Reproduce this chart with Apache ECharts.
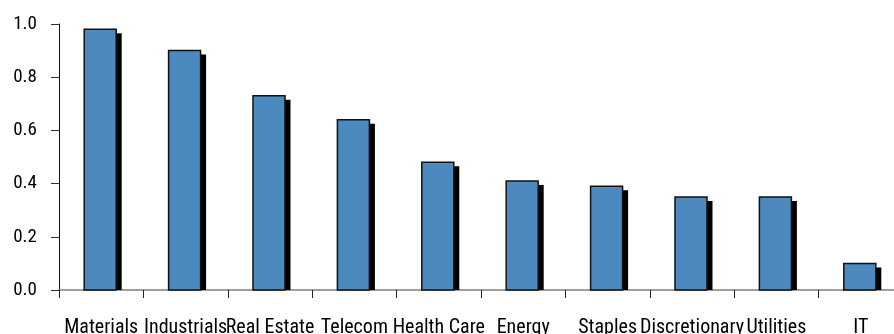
<!DOCTYPE html>
<html>
<head>
<meta charset="utf-8">
<script src="https://cdn.jsdelivr.net/npm/echarts@6/dist/echarts.min.js"></script>
<style>
html,body{margin:0;padding:0;background:#fff;}
#chart{width:894px;height:334px;}
</style>
</head>
<body>
<div id="chart"></div>
<script>
var categories = ['Materials', 'Industrials', 'Real Estate', 'Telecom', 'Health Care', 'Energy', 'Staples', 'Discretionary', 'Utilities', 'IT'];
var values = [0.98, 0.90, 0.73, 0.64, 0.48, 0.41, 0.39, 0.35, 0.35, 0.10];
var yTicks = [0.0, 0.2, 0.4, 0.6, 0.8, 1.0];

// pick a narrow font if one is installed
function hasFont(name) {
  var c = document.createElement('canvas').getContext('2d');
  var s = 'Materials IndustrialsWWmmii';
  c.font = '20px monospace';
  var a = c.measureText(s).width;
  c.font = '20px "' + name + '", monospace';
  var b = c.measureText(s).width;
  c.font = '20px serif';
  var a2 = c.measureText(s).width;
  c.font = '20px "' + name + '", serif';
  var b2 = c.measureText(s).width;
  return a !== b || a2 !== b2;
}
var FONT, XSIZE, YSIZE;
if (hasFont('Liberation Sans Narrow')) {
  FONT = '"Liberation Sans Narrow", sans-serif'; XSIZE = 21; YSIZE = 20;
} else if (hasFont('Arial Narrow')) {
  FONT = '"Arial Narrow", sans-serif'; XSIZE = 21; YSIZE = 20;
} else if (hasFont('Roboto Condensed')) {
  FONT = '"Roboto Condensed", sans-serif'; XSIZE = 20; YSIZE = 19;
} else {
  FONT = '"Liberation Sans", Arial, sans-serif'; XSIZE = 18; YSIZE = 18;
}

var chart = echarts.init(document.getElementById('chart'), null, {renderer: 'canvas'});
chart.setOption({
  animation: false,
  backgroundColor: '#ffffff',
  grid: {left: 59, right: -9, top: 24, bottom: 44, containLabel: false, outerBoundsMode: 'none'},
  xAxis: {
    type: 'category',
    data: categories,
    boundaryGap: true,
    axisLine: {show: true, lineStyle: {color: '#808080', width: 1.5}},
    axisTick: {show: true, length: 8, lineStyle: {color: '#222'}},
    axisLabel: {interval: 0, margin: 28, color: '#000', fontSize: XSIZE, fontFamily: FONT, hideOverlap: false}
  },
  yAxis: {
    type: 'value',
    min: yTicks[0],
    max: yTicks[yTicks.length - 1],
    interval: 0.2,
    splitLine: {show: false},
    axisLine: {show: true, lineStyle: {color: '#111', width: 1}},
    axisTick: {show: true, inside: false, length: 8, lineStyle: {color: '#333'}},
    axisLabel: {margin: 22, color: '#000', fontSize: YSIZE, fontFamily: FONT,
      formatter: function (v) { return v.toFixed(1); }}
  },
  series: [{
    type: 'custom',
    data: categories.map(function (c, i) { return [i, values[i]]; }),
    encode: {x: 0, y: 1},
    renderItem: function (params, api) {
      var top = api.coord([api.value(0), api.value(1)]);
      var base = api.coord([api.value(0), 0]);
      var w = 32;
      var x = top[0] - 17;
      var h = base[1] - top[1];
      return {
        type: 'group',
        children: [
          {type: 'rect', shape: {x: x + 5.5, y: top[1] + 4, width: w, height: Math.max(0, h - 4)},
           style: {fill: '#000'}},
          {type: 'rect', shape: {x: x, y: top[1], width: w, height: h},
           style: {fill: '#4b89be', stroke: '#111', lineWidth: 1.5}}
        ]
      };
    }
  }]
});
</script>
</body>
</html>
